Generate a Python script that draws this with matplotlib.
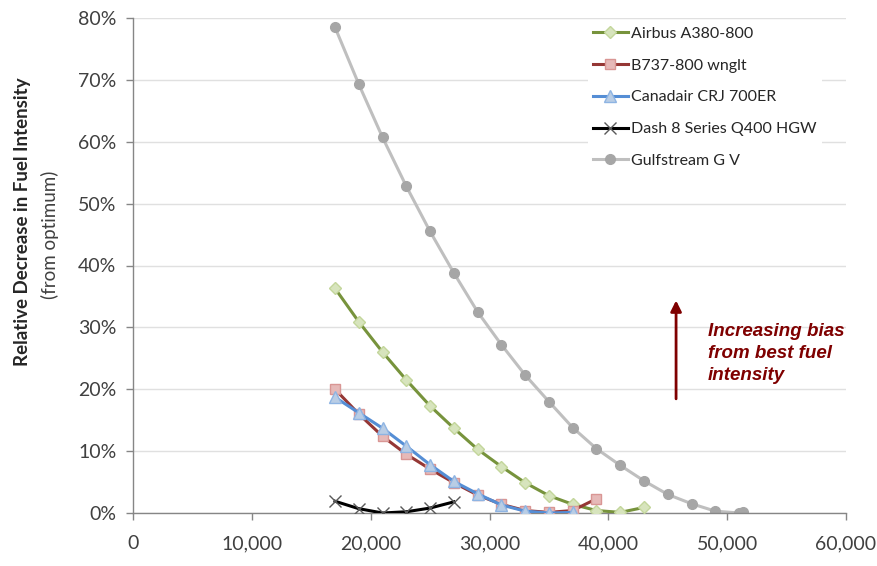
import matplotlib.pyplot as plt
from matplotlib.ticker import FuncFormatter

# altitude-ish x values (ft) and relative decrease in fuel intensity (fraction)
airbus_x = [17000, 19000, 21000, 23000, 25000, 27000, 29000, 31000, 33000, 35000, 37000, 39000, 41000, 43000]
airbus_y = [0.363, 0.309, 0.260, 0.215, 0.173, 0.137, 0.103, 0.075, 0.049, 0.028, 0.014, 0.004, 0.001, 0.009]

b737_x = [17000, 19000, 21000, 23000, 25000, 27000, 29000, 31000, 33000, 35000, 37000, 39000]
b737_y = [0.200, 0.160, 0.124, 0.095, 0.071, 0.049, 0.029, 0.014, 0.004, 0.001, 0.004, 0.023]

crj_x = [17000, 19000, 21000, 23000, 25000, 27000, 29000, 31000, 33000, 35000, 37000]
crj_y = [0.187, 0.162, 0.137, 0.108, 0.078, 0.051, 0.031, 0.013, 0.003, 0.000, 0.001]

dash_x = [17000, 19000, 21000, 23000, 25000, 27000]
dash_y = [0.019, 0.007, 0.000, 0.002, 0.008, 0.018]

gulf_x = [17000, 19000, 21000, 23000, 25000, 27000, 29000, 31000, 33000, 35000,
          37000, 39000, 41000, 43000, 45000, 47000, 49000, 51000, 51300]
gulf_y = [0.785, 0.693, 0.607, 0.528, 0.455, 0.388, 0.325, 0.272, 0.223, 0.180,
          0.138, 0.104, 0.077, 0.052, 0.030, 0.015, 0.003, 0.000, 0.002]

x_ticks = [0, 10000, 20000, 30000, 40000, 50000, 60000]
y_ticks = [0, 0.1, 0.2, 0.3, 0.4, 0.5, 0.6, 0.7, 0.8]

plt.rcParams['font.family'] = ['Lato', 'DejaVu Sans']

fig = plt.figure(figsize=(8.78, 5.66), dpi=100)
ax = fig.add_axes([133 / 878, 1 - 513 / 566, 713 / 878, 495 / 566])

ax.plot(airbus_x, airbus_y, color='#77933C', lw=2.2, marker='D', ms=6.5,
        mfc='#D7E4BD', mec='#C3D69B', label='Airbus A380-800', zorder=3)
ax.plot(b737_x, b737_y, color='#953735', lw=2.2, marker='s', ms=7.5,
        mfc='#E6B9B8', mec='#D99694', label='B737-800 wnglt', zorder=4)
ax.plot(crj_x, crj_y, color='#558ED5', lw=2.2, marker='^', ms=8,
        mfc='#B9CDE5', mec='#8EB4E3', label='Canadair CRJ 700ER', zorder=5)
ax.plot(dash_x, dash_y, color='black', lw=2.2, marker='x', ms=8,
        mec='#595959', mew=1.0, label='Dash 8 Series Q400 HGW', zorder=3)
ax.plot(gulf_x, gulf_y, color='#BFBFBF', lw=2.2, marker='o', ms=7,
        mfc='#A6A6A6', mec='#A6A6A6', label='Gulfstream G V', zorder=2)

ax.set_xlim(0, 60000)
ax.set_ylim(0, 0.8)
ax.set_xticks(x_ticks)
ax.set_yticks(y_ticks)
ax.xaxis.set_major_formatter(FuncFormatter(lambda v, p: '{:,.0f}'.format(v)))
ax.yaxis.set_major_formatter(FuncFormatter(lambda v, p: '{:.0f}%'.format(v * 100)))
ax.tick_params(labelsize=14, labelcolor='#404040', color='#868686', length=5, width=1)
ax.tick_params(axis='x', pad=11)
ax.tick_params(axis='y', pad=7)
ax.grid(axis='y', color='#E0E0E0', lw=1)
ax.set_axisbelow(True)
for s in ['top', 'right']:
    ax.spines[s].set_visible(False)
for s in ['left', 'bottom']:
    ax.spines[s].set_color('#868686')
    ax.spines[s].set_linewidth(1)

fig.text(23 / 878, 1 - 222 / 566, 'Relative Decrease in Fuel Intensity', rotation=90,
         fontsize=13.5, fontweight='bold', color='#262626', ha='center', va='center')
fig.text(50 / 878, 1 - 235 / 566, '(from optimum)', rotation=90,
         fontsize=13.5, color='#404040', ha='center', va='center')

leg = ax.legend(loc='upper left', bbox_to_anchor=(580 / 878, 1 - 14 / 566),
                bbox_transform=fig.transFigure, frameon=True, fontsize=11.5,
                handlelength=2.2, handletextpad=0.2, labelspacing=1.1,
                borderpad=0.3)
leg.get_frame().set_facecolor('white')
leg.get_frame().set_edgecolor('none')
leg.get_frame().set_alpha(1)
for t in leg.get_texts():
    t.set_color('#262626')

ax.annotate('', xy=(45700, 0.348), xytext=(45700, 0.18),
            arrowprops=dict(arrowstyle='-|>', color='#7F0000', lw=2, mutation_scale=16))
ax.text(48400, 0.258, 'Increasing bias\nfrom best fuel\nintensity', fontsize=13.5,
        fontweight='bold', style='italic', color='#7F0000', family='Liberation Sans',
        ha='left', va='center', linespacing=1.4)

fig.savefig('out.png', dpi=100)
